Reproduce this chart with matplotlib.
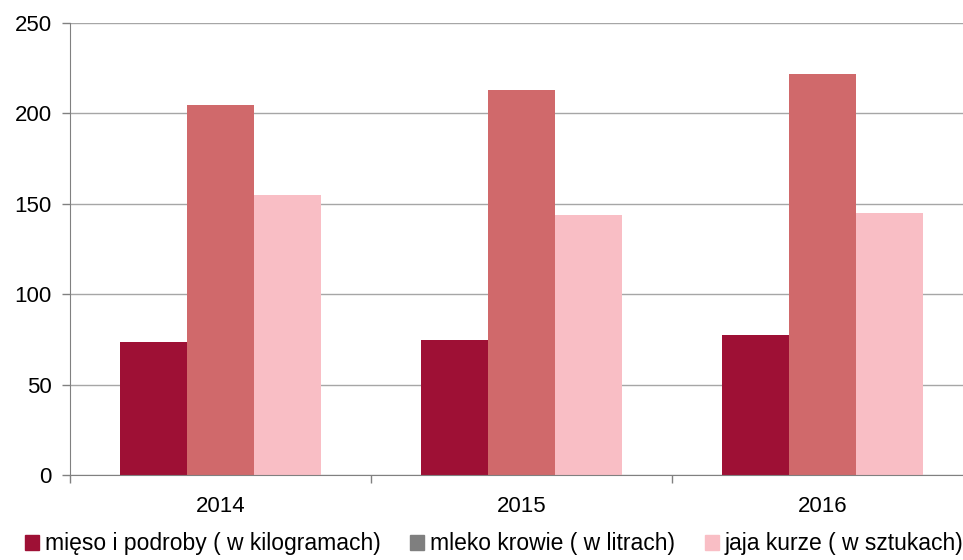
import numpy as np
import matplotlib.pyplot as plt
from matplotlib.patches import Patch

plt.rcParams['font.family'] = ['Liberation Sans', 'DejaVu Sans']

# Data
years = ['2014', '2015', '2016']
series_names = ['mięso i podroby ( w kilogramach)',
                'mleko krowie ( w litrach)',
                'jaja kurze ( w sztukach)']
mieso = [73.5, 74.7, 77.4]
mleko = [204.6, 213.0, 221.8]
jaja = [154.9, 143.8, 144.9]

bar_colors = ['#9e1035', '#d0696b', '#f9bec5']
legend_colors = ['#9e1035', '#7f7f7f', '#f9bec5']

fig = plt.figure(figsize=(9.63, 5.6), dpi=100)
ax = fig.add_axes([70 / 963, 1 - 475 / 560, (973 - 70) / 963, (475 - 23) / 560])

x = np.arange(len(years))
w = 0.2225
for i, vals in enumerate([mieso, mleko, jaja]):
    ax.bar(x + (i - 1) * w, vals, width=w, color=bar_colors[i], zorder=2)

ax.set_xlim(-0.5, 2.5)
ax.set_ylim(0, 250)
ax.set_yticks(np.arange(0, 251, 50))
ax.yaxis.grid(True, color='#a6a6a6', linewidth=1, zorder=0)
ax.set_axisbelow(True)

ax.set_xticks(x)
ax.set_xticklabels(years)
ax.set_xticks(np.arange(-0.5, 2.6, 1), minor=True)
ax.tick_params(axis='x', which='major', length=0, pad=15, labelsize=16)
ax.tick_params(axis='x', which='minor', length=6, color='#808080', width=1)
ax.tick_params(axis='y', length=6, color='#808080', width=1, labelsize=16, pad=7)

for s in ['top', 'right']:
    ax.spines[s].set_visible(False)
ax.spines['left'].set_color('#808080')
ax.spines['bottom'].set_color('#808080')

handles = [Patch(color=c) for c in legend_colors]
fig.legend(handles, series_names, loc='lower left', bbox_to_anchor=(0.016, -0.008),
           ncol=3, frameon=False, fontsize=16.5, handlelength=0.62, handleheight=0.62,
           handletextpad=0.25, columnspacing=1.3, borderaxespad=0)

fig.savefig('out.png', dpi=100)
